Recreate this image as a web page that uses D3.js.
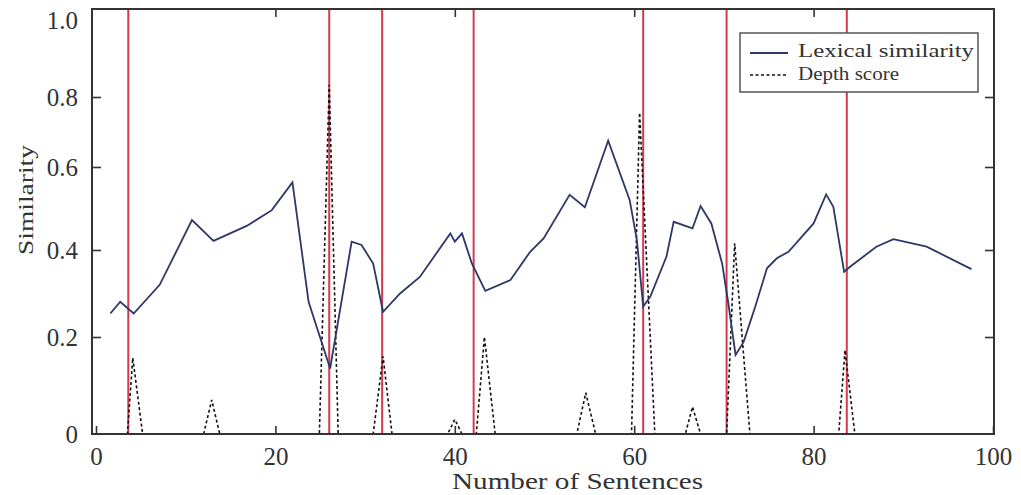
<!DOCTYPE html>
<html>
<head>
<meta charset="utf-8">
<script src="https://cdn.jsdelivr.net/npm/d3@7"></script>
<style>
  body { margin: 0; background: #fff; }
  text { font-family: "Liberation Serif", "Times New Roman", serif; fill: #333; }
</style>
</head>
<body>
<svg></svg>
<script>
const width = 1021;
const height = 495;

// Lexical similarity curve (sentence gap, similarity)
const lexX = [1.6, 2.7, 4.2, 7.1, 10.7, 13.1, 16.8, 19.6, 21.9, 23.7, 26.1, 28.5, 29.6, 30.9, 32.0,
  33.9, 36.1, 39.5, 40.0, 40.8, 41.9, 43.4, 46.2, 48.4, 49.9, 52.8, 54.5, 57.1, 59.5, 60.3, 61.0,
  61.8, 63.6, 64.4, 66.5, 67.4, 68.6, 69.8, 70.5, 71.3, 72.2, 73.5, 74.8, 75.9, 77.2, 80.0, 81.4,
  82.2, 83.4, 84.1, 87.0, 88.9, 92.6, 97.6];
const lexY = [0.254, 0.281, 0.254, 0.320, 0.472, 0.422, 0.458, 0.496, 0.563, 0.281, 0.135, 0.420, 0.412, 0.369, 0.258,
  0.300, 0.338, 0.440, 0.420, 0.440, 0.369, 0.306, 0.331, 0.396, 0.428, 0.533, 0.503, 0.675, 0.520, 0.424, 0.270,
  0.293, 0.385, 0.468, 0.452, 0.506, 0.464, 0.369, 0.277, 0.163, 0.190, 0.270, 0.358, 0.381, 0.396, 0.464, 0.534,
  0.504, 0.350, 0.362, 0.408, 0.426, 0.408, 0.356];

// Depth score (zero except at the peaks)
const depthX = [1, 3.5, 4.1, 5.2, 12.0, 12.9, 13.8, 24.9, 26.0, 27.0, 30.9, 32.0, 33.0, 39.2, 40.0, 40.8,
  42.4, 43.3, 44.5, 53.6, 54.6, 55.7, 59.7, 60.6, 62.3, 65.7, 66.5, 67.4, 70.3, 71.2, 72.9, 82.8, 83.5, 84.6, 97];
const depthY = [0, 0, 0.157, 0, 0, 0.07, 0, 0, 0.831, 0, 0, 0.16, 0, 0, 0.03, 0,
  0, 0.2, 0, 0, 0.085, 0, 0, 0.755, 0, 0, 0.056, 0, 0, 0.416, 0, 0, 0.173, 0, 0];

// Detected boundaries (red lines)
const boundaries = [3.6, 26.0, 31.9, 42.1, 61.0, 70.3, 83.7];

const xTicks = [0, 20, 40, 60, 80, 100];
const yTicks = [0, 0.2, 0.4, 0.6, 0.8, 1.0];

const frame = { left: 92, right: 994, top: 9, bottom: 434 };

const svg = d3.select("svg").attr("width", width).attr("height", height);

const x = d3.scaleLinear().domain([0, 100]).range([96, 993]);
// the printed y axis is not evenly spaced, so map each tick on its own
const y = d3.scaleLinear().domain(yTicks).range([434, 337, 250, 167, 97, 20]);

// boundaries
svg.append("g")
  .selectAll("line")
  .data(boundaries)
  .join("line")
  .attr("x1", (d) => x(d))
  .attr("x2", (d) => x(d))
  .attr("y1", frame.top)
  .attr("y2", frame.bottom)
  .style("stroke", "#d23a50")
  .style("stroke-width", 2);

// depth score
const depth = depthX.map((d, i) => [d, depthY[i]]);
svg.append("path")
  .datum(depth)
  .attr("d", d3.line().x((d) => x(d[0])).y((d) => y(d[1])))
  .style("fill", "none")
  .style("stroke", "#111")
  .style("stroke-width", 1.6)
  .style("stroke-dasharray", "3,2.5");

// lexical similarity
const lex = lexX.map((d, i) => [d, lexY[i]]);
svg.append("path")
  .datum(lex)
  .attr("d", d3.line().x((d) => x(d[0])).y((d) => y(d[1])))
  .style("fill", "none")
  .style("stroke", "#2d3868")
  .style("stroke-width", 1.8);

// axes with inward ticks
const bottom = svg.append("g")
  .attr("transform", `translate(0,${frame.bottom})`)
  .call(d3.axisBottom(x).tickValues(xTicks).tickSizeInner(-8).tickSizeOuter(0).tickPadding(13));
bottom.selectAll("text").style("font-size", "25px").style("fill", "#333");

svg.append("g")
  .attr("transform", `translate(0,${frame.top})`)
  .call(d3.axisTop(x).tickValues(xTicks.slice(1, -1)).tickSizeInner(-8).tickSizeOuter(0).tickFormat(""));

const left = svg.append("g")
  .attr("transform", `translate(${frame.left},0)`)
  .call(d3.axisLeft(y).tickValues(yTicks).tickSizeInner(-9).tickSizeOuter(0).tickPadding(14)
    .tickFormat((d) => (d === 0 ? "0" : d.toFixed(1))));
left.selectAll("text").style("font-size", "25px").style("fill", "#333");
left.selectAll(".tick").filter((d) => d === 1 || d === 0).select("line").remove();

svg.append("g")
  .attr("transform", `translate(${frame.right},0)`)
  .call(d3.axisRight(y).tickValues(yTicks.slice(1, -1)).tickSizeInner(-9).tickSizeOuter(0).tickFormat(""));

svg.selectAll(".domain").remove();
svg.selectAll(".tick line").style("stroke", "#333").style("stroke-width", 1.6);

// frame
svg.append("rect")
  .attr("x", frame.left)
  .attr("y", frame.top)
  .attr("width", frame.right - frame.left)
  .attr("height", frame.bottom - frame.top)
  .style("fill", "none")
  .style("stroke", "#333")
  .style("stroke-width", 2);

// axis titles
svg.append("text")
  .attr("x", 452)
  .attr("y", 489)
  .attr("textLength", 251)
  .attr("lengthAdjust", "spacingAndGlyphs")
  .style("font-size", "24px")
  .text("Number of Sentences");

svg.append("text")
  .attr("transform", "translate(33,255) rotate(-90)")
  .attr("textLength", 110)
  .attr("lengthAdjust", "spacingAndGlyphs")
  .style("font-size", "22px")
  .text("Similarity");

// legend
const legend = svg.append("g");
legend.append("rect")
  .attr("x", 740)
  .attr("y", 33)
  .attr("width", 238)
  .attr("height", 59)
  .style("fill", "#fff")
  .style("stroke", "#555")
  .style("stroke-width", 1.5);

legend.append("line")
  .attr("x1", 750).attr("x2", 788).attr("y1", 53).attr("y2", 53)
  .style("stroke", "#2d3868").style("stroke-width", 1.8);
legend.append("line")
  .attr("x1", 750).attr("x2", 788).attr("y1", 75).attr("y2", 75)
  .style("stroke", "#111").style("stroke-width", 1.4).style("stroke-dasharray", "3,2.5");

legend.append("text")
  .attr("x", 798).attr("y", 57)
  .attr("textLength", 176)
  .attr("lengthAdjust", "spacingAndGlyphs")
  .style("font-size", "19px")
  .text("Lexical similarity");
legend.append("text")
  .attr("x", 798).attr("y", 80)
  .attr("textLength", 101)
  .attr("lengthAdjust", "spacingAndGlyphs")
  .style("font-size", "18px")
  .text("Depth score");
</script>
</body>
</html>
